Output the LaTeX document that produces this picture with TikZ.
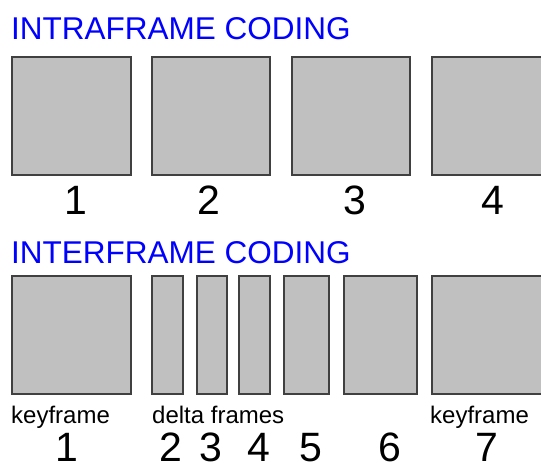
\documentclass[tikz,border=0pt]{standalone}
\usepackage{fontspec}
\setmainfont{Liberation Sans}
\definecolor{framefill}{RGB}{192,192,192}
\definecolor{frameline}{RGB}{64,64,64}
\definecolor{titleblue}{RGB}{0,0,255}
\begin{document}
\begin{tikzpicture}[x=1pt,y=-1pt,
  framebox/.style={draw=frameline, fill=framefill, line width=1.1pt, inner sep=0pt,
                   minimum height=118pt},
  heading/.style={anchor=base west, inner sep=0pt, text=titleblue,
                  font=\fontsize{31.5}{36}\selectfont},
  tagtext/.style={anchor=base west, inner sep=0pt, font=\fontsize{24}{28}\selectfont},
  numlabel/.style={anchor=base, inner sep=0pt, font=\fontsize{41}{48}\selectfont}]
\useasboundingbox (0,0) rectangle (541,464);
\clip (0,0) rectangle (541,464);

% --- intraframe coding: every frame stored in full ---
\node[heading] (intra) at (11,39.5) {INTRAFRAME CODING};
\node[framebox, minimum width=119pt] (a1) at (71.5,116) {};
\node[framebox, minimum width=118pt] (a2) at (211,116) {};
\node[framebox, minimum width=118pt] (a3) at (351,116) {};
\node[framebox, minimum width=119pt] (a4) at (491.5,116) {};
\node[numlabel] (n1) at (75.5,214.5) {1};
\node[numlabel] (n2) at (209,214.5) {2};
\node[numlabel] (n3) at (355,214.5) {3};
\node[numlabel] (n4) at (493,214.5) {4};

% --- interframe coding: keyframes plus smaller delta frames ---
\node[heading] (inter) at (11,263) {INTERFRAME CODING};
\node[framebox, minimum width=119pt] (b1) at (71.5,335) {};
\node[framebox, minimum width=31pt] (b2) at (167.5,335) {};
\node[framebox, minimum width=30pt] (b3) at (212,335) {};
\node[framebox, minimum width=31pt] (b4) at (254.5,335) {};
\node[framebox, minimum width=45pt] (b5) at (306.5,335) {};
\node[framebox, minimum width=73pt] (b6) at (380.5,335) {};
\node[framebox, minimum width=119pt] (b7) at (491.5,335) {};

\node[tagtext] (key1) at (11,423) {keyframe};
\node[tagtext] (delta) at (152,423) {delta frames};
\node[tagtext] (key2) at (430,423) {keyframe};

\node[numlabel] (m1) at (66.5,461.5) {1};
\node[numlabel] (m2) at (171,461.5) {2};
\node[numlabel] (m3) at (211,461.5) {3};
\node[numlabel] (m4) at (259,461.5) {4};
\node[numlabel] (m5) at (311,461.5) {5};
\node[numlabel] (m6) at (390,461.5) {6};
\node[numlabel] (m7) at (487,461.5) {7};
\end{tikzpicture}
\end{document}
